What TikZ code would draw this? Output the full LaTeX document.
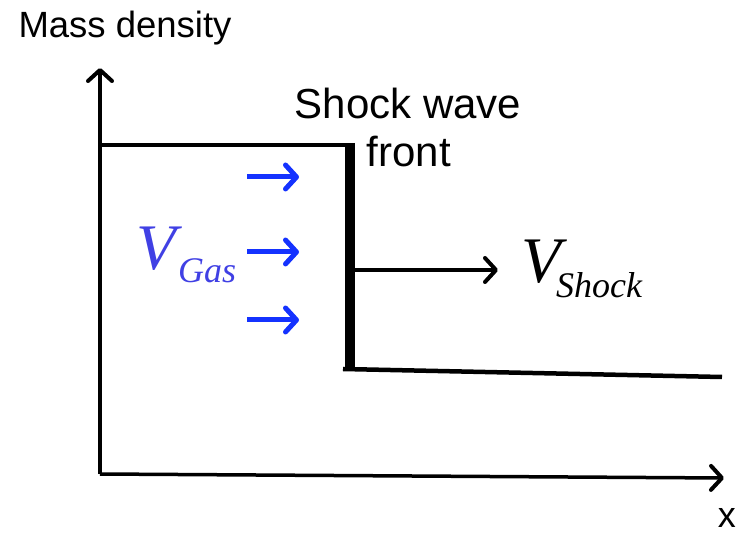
\documentclass[tikz,border=0pt]{standalone}
\usepackage{fontspec}
\setmainfont{Liberation Sans}
\newfontfamily\timesfont{Liberation Serif}
\usetikzlibrary{arrows.meta}
\definecolor{gasblue}{RGB}{64,64,228}
\definecolor{arrblue}{RGB}{20,50,255}
\tikzset{
  axis/.style={line width=3.5pt,-{Straight Barb[length=11pt,width=24pt,line width=4pt,round]}},
  profile/.style={line width=4.5pt},
  front/.style={line width=10pt},
  gasarrow/.style={arrblue,line width=5pt,-{Straight Barb[length=11pt,width=24pt,line width=5pt,round]}},
  shockarrow/.style={line width=3.5pt,-{Straight Barb[length=11pt,width=24pt,line width=4pt,round]}},
  lbl/.style={inner sep=0pt,anchor=base}
}
\begin{document}
\begin{tikzpicture}[x=1pt,y=-1pt]
\useasboundingbox (0,0) rectangle (739,534);
% coordinates
\coordinate (o) at (100,474);
\coordinate (ytop) at (100,68);
\coordinate (xend) at (724,478);
\coordinate (pl) at (100,145);
\coordinate (pr) at (350,145);
\coordinate (fb) at (350,369);
\coordinate (br) at (722,377);
\coordinate (fl) at (343,369);
% axes
\draw[axis] (o) -- (ytop);
\draw[axis] (o) -- (xend);
% profile
\draw[profile] (pl) -- (pr);
\draw[front] (pr) ++(0,-2) coordinate (pt) -- (fb);
\draw[profile] (fl) -- (br);
% labels
\node[lbl,font=\fontsize{36.5}{40}\selectfont] (mass) at (125,38) {Mass density};
\node[lbl,font=\fontsize{42}{46}\selectfont] (sw) at (408,119) {Shock wave};
\node[lbl,font=\fontsize{42}{46}\selectfont] (fr) at (409,167) {front};
\node[lbl,font=\fontsize{36}{40}\selectfont,anchor=base east] (xl) at (736,527) {x};
% gas arrows
\coordinate (g1s) at (247,177); \coordinate (g1e) at (299,177);
\coordinate (g2s) at (247,252); \coordinate (g2e) at (299,252);
\coordinate (g3s) at (247,320); \coordinate (g3e) at (299,320);
\draw[gasarrow] (g1s) -- (g1e);
\draw[gasarrow] (g2s) -- (g2e);
\draw[gasarrow] (g3s) -- (g3e);
\node[lbl,gasblue,font=\timesfont\itshape\fontsize{65}{68}\selectfont,anchor=base west] (vgas) at (136,270) {V};
\node[lbl,gasblue,font=\timesfont\itshape\fontsize{36}{40}\selectfont,anchor=base west] (gas) at (178,283) {Gas};
% shock arrow
\coordinate (ss) at (355,270);
\coordinate (se) at (498,270);
\draw[shockarrow] (ss) -- (se);
\node[lbl,font=\timesfont\itshape\fontsize{65}{68}\selectfont,anchor=base west] (vsh) at (521,283) {V};
\node[lbl,font=\timesfont\itshape\fontsize{36}{40}\selectfont,anchor=base west] (shock) at (556,298) {Shock};
\end{tikzpicture}
\end{document}
